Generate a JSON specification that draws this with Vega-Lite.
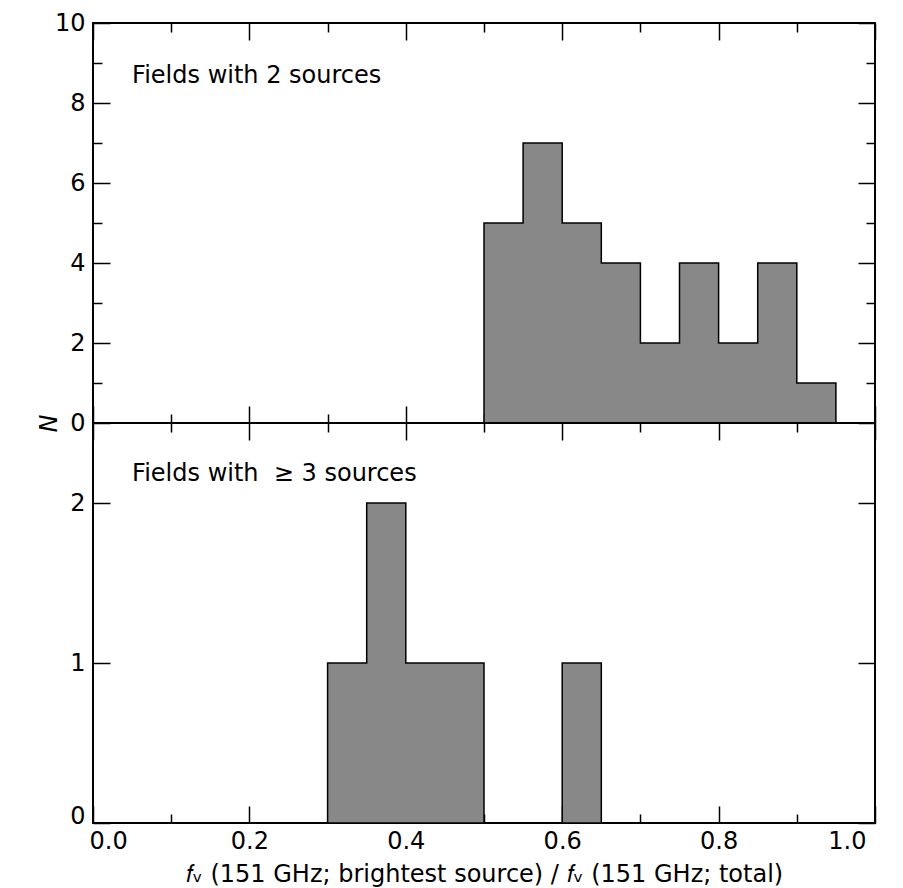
{
  "$schema": "https://vega.github.io/schema/vega-lite/v6.json",
  "background": "white",
  "padding": {"left": 36, "top": 10, "right": 29, "bottom": 3},
  "spacing": 0,
  "bounds": "flush",
  "config": {
    "font": "DejaVu Sans",
    "view": {"stroke": "black", "strokeWidth": 2},
    "axis": {
      "domain": false,
      "grid": false,
      "tickColor": "black",
      "tickWidth": 1.5,
      "labelColor": "black",
      "labelFontSize": 24,
      "labelFlush": false,
      "titleColor": "black",
      "titleFontSize": 24,
      "titleFontWeight": "normal"
    }
  },
  "vconcat": [
    {
      "width": 782,
      "height": 400,
      "layer": [
        {
          "data": {
            "values": [
              {"lo": 0.5, "hi": 0.55, "n": 5},
              {"lo": 0.55, "hi": 0.6, "n": 7},
              {"lo": 0.6, "hi": 0.65, "n": 5},
              {"lo": 0.65, "hi": 0.7, "n": 4},
              {"lo": 0.7, "hi": 0.75, "n": 2},
              {"lo": 0.75, "hi": 0.8, "n": 4},
              {"lo": 0.8, "hi": 0.85, "n": 2},
              {"lo": 0.85, "hi": 0.9, "n": 4},
              {"lo": 0.9, "hi": 0.95, "n": 1}
            ]
          },
          "transform": [{"fold": ["lo", "hi"], "as": ["edge", "x"]}],
          "mark": {"type": "area", "fill": "#888888", "fillOpacity": 1, "stroke": "black", "strokeWidth": 1.5},
          "encoding": {
            "x": {
              "field": "x", "type": "quantitative",
              "scale": {"domain": [0, 1], "nice": false, "zero": false},
              "axis": {
                "orient": "bottom", "title": null, "labels": false,
                "values": [0, 0.1, 0.2, 0.3, 0.4, 0.5, 0.6, 0.7, 0.8, 0.9, 1],
                "tickSize": {"condition": {"test": "round(datum.value*10) % 2 == 0", "value": -17}, "value": -9}
              }
            },
            "y": {
              "field": "n", "type": "quantitative", "stack": null,
              "scale": {"domain": [0, 10], "nice": false},
              "axis": {
                "orient": "left",
                "values": [0, 1, 2, 3, 4, 5, 6, 7, 8, 9, 10],
                "labelExpr": "datum.value % 2 == 0 ? datum.label : ''",
                "labelPadding": 25,
                "tickSize": {"condition": {"test": "datum.value % 2 == 0", "value": -17}, "value": -9},
                "title": "N",
                "titleFontStyle": "italic",
                "titleAngle": 270,
                "titleAlign": "center",
                "titleBaseline": "middle",
                "titleX": -44,
                "titleY": 400
              }
            },
            "order": [
              {"field": "lo", "type": "quantitative"},
              {"field": "edge", "type": "nominal", "sort": "descending"}
            ]
          }
        },
        {
          "data": {"values": [{"label": "Fields with 2 sources"}]},
          "mark": {"type": "text", "align": "left", "baseline": "alphabetic", "fontSize": 24, "color": "black"},
          "encoding": {
            "x": {
              "datum": 0.05, "type": "quantitative",
              "axis": {
                "orient": "top", "title": null, "labels": false,
                "values": [0, 0.1, 0.2, 0.3, 0.4, 0.5, 0.6, 0.7, 0.8, 0.9, 1],
                "tickSize": {"condition": {"test": "round(datum.value*10) % 2 == 0", "value": -17}, "value": -9}
              }
            },
            "y": {
              "datum": 8.5, "type": "quantitative",
              "axis": {
                "orient": "right", "title": null, "labels": false,
                "values": [0, 1, 2, 3, 4, 5, 6, 7, 8, 9, 10],
                "tickSize": {"condition": {"test": "datum.value % 2 == 0", "value": -17}, "value": -9}
              }
            },
            "text": {"field": "label"}
          }
        }
      ],
      "resolve": {"axis": {"x": "independent", "y": "independent"}}
    },
    {
      "width": 782,
      "height": 400,
      "layer": [
        {
          "data": {
            "values": [
              {"lo": 0.3, "hi": 0.35, "n": 1},
              {"lo": 0.35, "hi": 0.4, "n": 2},
              {"lo": 0.4, "hi": 0.45, "n": 1},
              {"lo": 0.45, "hi": 0.5, "n": 1},
              {"lo": 0.5, "hi": 0.55, "n": 0},
              {"lo": 0.55, "hi": 0.6, "n": 0},
              {"lo": 0.6, "hi": 0.65, "n": 1}
            ]
          },
          "transform": [{"fold": ["lo", "hi"], "as": ["edge", "x"]}],
          "mark": {"type": "area", "fill": "#888888", "fillOpacity": 1, "stroke": "black", "strokeWidth": 1.5},
          "encoding": {
            "x": {
              "field": "x", "type": "quantitative",
              "scale": {"domain": [0, 1], "nice": false, "zero": false},
              "axis": {
                "orient": "bottom",
                "values": [0, 0.1, 0.2, 0.3, 0.4, 0.5, 0.6, 0.7, 0.8, 0.9, 1],
                "labelExpr": "round(datum.value*10) % 2 == 0 ? format(datum.value, '.1f') : ''",
                "labelPadding": 23.5,
                "labelAlign": {"condition": [{"test": "datum.value == 0", "value": "left"}, {"test": "datum.value == 1", "value": "right"}], "value": "center"},
                "labelOffset": {"condition": [{"test": "datum.value == 0", "value": -4}, {"test": "datum.value == 1", "value": -9}], "value": 0},
                "tickSize": {"condition": {"test": "round(datum.value*10) % 2 == 0", "value": -17}, "value": -9},
                "title": "𝑓ᵥ (151 GHz; brightest source) / 𝑓ᵥ (151 GHz; total)",
                "titleBaseline": "alphabetic",
                "titleY": 58
              }
            },
            "y": {
              "field": "n", "type": "quantitative", "stack": null,
              "scale": {"domain": [0, 2.5], "nice": false},
              "axis": {
                "orient": "left",
                "values": [0, 1, 2],
                "labelPadding": 25,
                "labelBaseline": {"condition": {"test": "datum.value == 0", "value": "alphabetic"}, "value": "middle"},
                "tickSize": -17,
                "title": null
              }
            },
            "order": [
              {"field": "lo", "type": "quantitative"},
              {"field": "edge", "type": "nominal", "sort": "descending"}
            ]
          }
        },
        {
          "data": {"values": [{"label": "Fields with \u00a0≥ 3 sources"}]},
          "mark": {"type": "text", "align": "left", "baseline": "alphabetic", "fontSize": 24, "color": "black"},
          "encoding": {
            "x": {
              "datum": 0.05, "type": "quantitative",
              "axis": {
                "orient": "top", "title": null, "labels": false,
                "values": [0, 0.1, 0.2, 0.3, 0.4, 0.5, 0.6, 0.7, 0.8, 0.9, 1],
                "tickSize": {"condition": {"test": "round(datum.value*10) % 2 == 0", "value": -17}, "value": -9}
              }
            },
            "y": {
              "datum": 2.1375, "type": "quantitative",
              "axis": {
                "orient": "right", "title": null, "labels": false,
                "values": [0, 1, 2],
                "tickSize": -17
              }
            },
            "text": {"field": "label"}
          }
        }
      ],
      "resolve": {"axis": {"x": "independent", "y": "independent"}}
    }
  ]
}
